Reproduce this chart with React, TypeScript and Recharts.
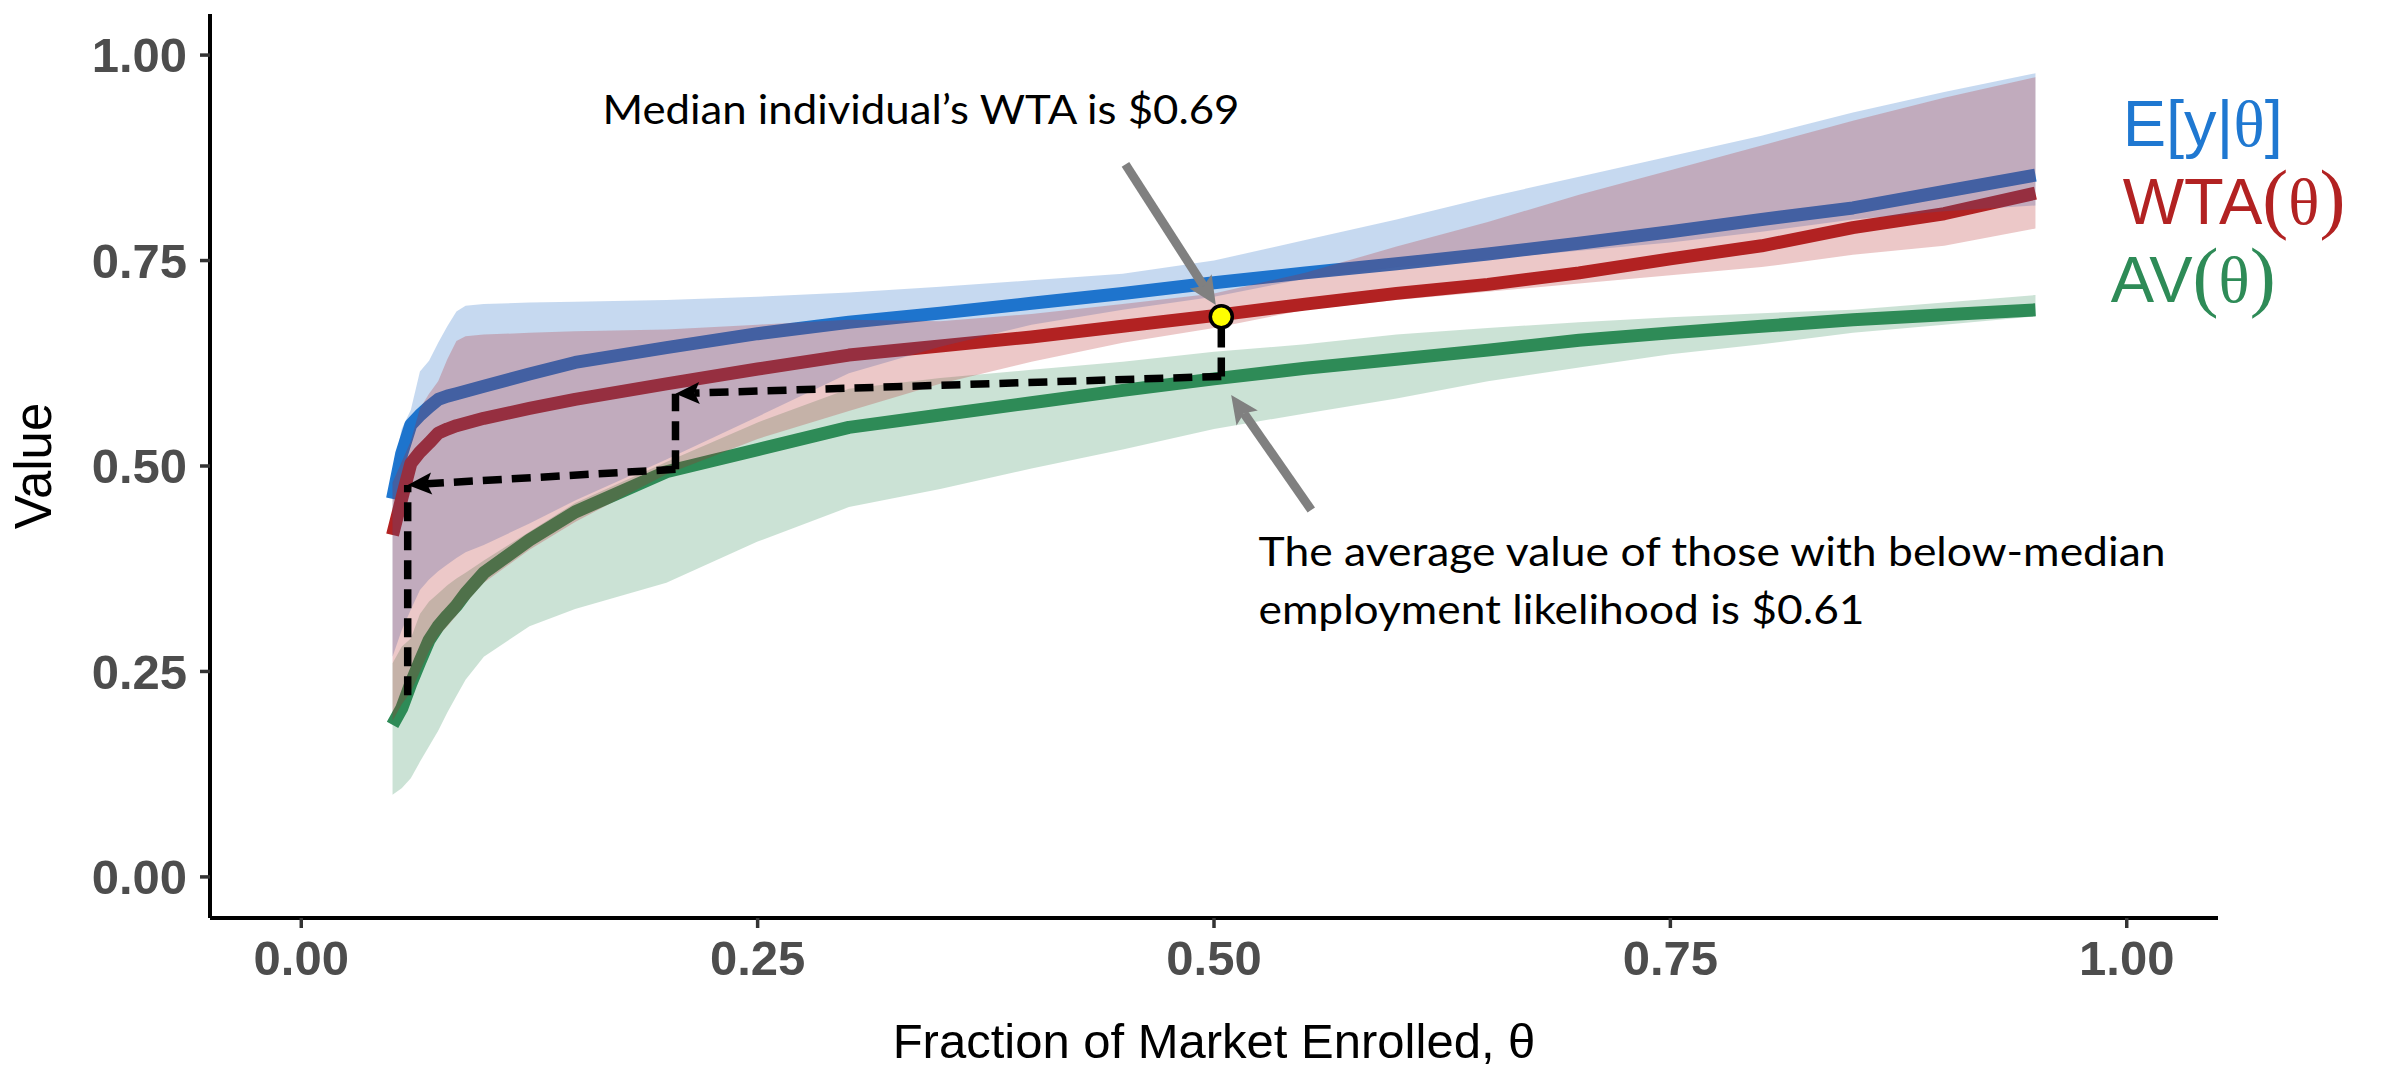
import React from "react";
import {
  ComposedChart,
  Line,
  Area,
  XAxis,
  YAxis,
  ReferenceLine,
  ReferenceDot,
  Label,
} from "recharts";

// fraction of market enrolled
const theta = [0.05, 0.055, 0.06, 0.065, 0.07, 0.075, 0.08, 0.085, 0.09, 0.1, 0.125, 0.15, 0.2, 0.25, 0.3, 0.35, 0.4, 0.45, 0.5, 0.55, 0.6, 0.65, 0.7, 0.75, 0.8, 0.85, 0.9, 0.95];

// E[y|theta]
const eyMid = [0.46, 0.515, 0.55, 0.562, 0.572, 0.581, 0.585, 0.588, 0.591, 0.597, 0.612, 0.626, 0.644, 0.661, 0.675, 0.686, 0.698, 0.71, 0.723, 0.735, 0.746, 0.758, 0.771, 0.785, 0.8, 0.814, 0.834, 0.854];
const eyLo = [0.268, 0.3, 0.325, 0.349, 0.362, 0.372, 0.38, 0.388, 0.395, 0.404, 0.43, 0.458, 0.508, 0.56, 0.613, 0.645, 0.672, 0.69, 0.706, 0.728, 0.742, 0.752, 0.762, 0.772, 0.785, 0.8, 0.81, 0.817];
const eyHi = [0.49, 0.545, 0.568, 0.615, 0.628, 0.65, 0.67, 0.688, 0.695, 0.697, 0.699, 0.7, 0.702, 0.706, 0.711, 0.718, 0.726, 0.734, 0.75, 0.775, 0.8, 0.827, 0.852, 0.877, 0.902, 0.93, 0.955, 0.978];

// WTA(theta)
const wtaMid = [0.416, 0.46, 0.503, 0.517, 0.528, 0.54, 0.545, 0.549, 0.552, 0.558, 0.57, 0.581, 0.6, 0.618, 0.635, 0.646, 0.657, 0.67, 0.683, 0.697, 0.71, 0.721, 0.735, 0.752, 0.768, 0.79, 0.807, 0.832];
const wtaLo = [0.19, 0.21, 0.225, 0.25, 0.275, 0.293, 0.305, 0.318, 0.333, 0.358, 0.398, 0.432, 0.49, 0.533, 0.567, 0.6, 0.627, 0.65, 0.668, 0.69, 0.702, 0.712, 0.722, 0.732, 0.742, 0.757, 0.768, 0.789];
const wtaHi = [0.48, 0.505, 0.53, 0.57, 0.588, 0.603, 0.63, 0.652, 0.658, 0.66, 0.662, 0.664, 0.666, 0.672, 0.678, 0.676, 0.685, 0.697, 0.71, 0.735, 0.767, 0.797, 0.83, 0.86, 0.89, 0.92, 0.948, 0.973];

// AV(theta)
const avMid = [0.185, 0.205, 0.235, 0.262, 0.288, 0.305, 0.318, 0.33, 0.345, 0.37, 0.41, 0.444, 0.493, 0.52, 0.547, 0.562, 0.577, 0.592, 0.606, 0.619, 0.63, 0.641, 0.653, 0.662, 0.67, 0.678, 0.684, 0.69];
const avLo = [0.1, 0.108, 0.12, 0.14, 0.159, 0.178, 0.2, 0.22, 0.24, 0.268, 0.305, 0.326, 0.358, 0.408, 0.45, 0.472, 0.497, 0.52, 0.545, 0.564, 0.582, 0.603, 0.62, 0.636, 0.648, 0.662, 0.672, 0.682];
const avHi = [0.26, 0.28, 0.29, 0.32, 0.335, 0.345, 0.355, 0.363, 0.37, 0.385, 0.42, 0.455, 0.505, 0.553, 0.594, 0.607, 0.617, 0.627, 0.639, 0.648, 0.66, 0.668, 0.675, 0.681, 0.686, 0.69, 0.699, 0.708];

const axisTicks = [0, 0.25, 0.5, 0.75, 1];

// dashed guide path (data coords)
const guides = [
  { from: [0.0583, 0.221], to: [0.0583, 0.477], arrow: false },
  { from: [0.205, 0.496], to: [0.0583, 0.477], arrow: true },
  { from: [0.205, 0.496], to: [0.205, 0.588], arrow: false },
  { from: [0.504, 0.609], to: [0.205, 0.588], arrow: true },
  { from: [0.504, 0.609], to: [0.504, 0.672], arrow: false },
];

// grey callout arrows
const callouts = [
  { from: [0.4515, 0.867], to: [0.501, 0.696] },
  { from: [0.5533, 0.4465], to: [0.5094, 0.5864] },
];

const medianPoint = { x: 0.504, y: 0.6817 };

const notes = [
  { x: 0.165, y: 0.9156, text: "Median individual\u2019s WTA is $0.69", len: 637 },
  { x: 0.5244, y: 0.378, text: "The average value of those with below-median", len: 907 },
  { x: 0.5244, y: 0.3078, text: "employment likelihood is $0.61", len: 606 },
];

const BLUE = "#1f78d1";
const RED = "#b22222";
const GREEN = "#2e8b57";

const rows = theta.map((t, i) => ({
  t,
  ey: eyMid[i],
  wta: wtaMid[i],
  av: avMid[i],
  eyBand: [eyLo[i], eyHi[i]],
  wtaBand: [wtaLo[i], wtaHi[i]],
  avBand: [avLo[i], avHi[i]],
}));

const SANS = "'Liberation Sans', Arial, Helvetica, sans-serif";
const SERIF = "'Liberation Serif', 'Times New Roman', serif";

const XTick = (props: any) => {
  const { x, y, payload } = props;
  return (
    <text x={x} y={y} dy="0.71em" textAnchor="middle" fontFamily={SANS} fontWeight={700} fontSize={49} fill="#4d4d4d">
      {Number(payload.value).toFixed(2)}
    </text>
  );
};

const YTick = (props: any) => {
  const { x, y, payload } = props;
  return (
    <text x={x} y={y} dy="0.355em" textAnchor="end" fontFamily={SANS} fontWeight={700} fontSize={49} fill="#4d4d4d">
      {Number(payload.value).toFixed(2)}
    </text>
  );
};

function arrowShape(color: string, width: number, headLen: number, headHalf: number, dash?: string, withHead = true) {
  return (p: any) => {
    const { x1, y1, x2, y2 } = p;
    const dx = x2 - x1;
    const dy = y2 - y1;
    const len = Math.hypot(dx, dy) || 1;
    const ux = dx / len;
    const uy = dy / len;
    const bx = withHead ? x2 - ux * headLen * 0.8 : x2;
    const by = withHead ? y2 - uy * headLen * 0.8 : y2;
    const hx = x2 - ux * headLen;
    const hy = y2 - uy * headLen;
    const px = -uy * headHalf;
    const py = ux * headHalf;
    const nx = x2 - ux * headLen * 0.8;
    const ny = y2 - uy * headLen * 0.8;
    return (
      <g>
        <line x1={x1} y1={y1} x2={bx} y2={by} stroke={color} strokeWidth={width} strokeDasharray={dash} />
        {withHead && (
          <polygon points={`${x2},${y2} ${hx + px},${hy + py} ${nx},${ny} ${hx - px},${hy - py}`} fill={color} />
        )}
      </g>
    );
  };
}

const noteShape = (text: string, len: number) => (p: any) => (
  <text x={p.cx} y={p.cy} fontFamily="Lato, 'Open Sans', sans-serif" fontSize={40} fill="#000" textLength={len} lengthAdjust="spacingAndGlyphs">
    {text}
  </text>
);

const legendShape = (kind: string) => (p: any) => {
  const common = { x: p.cx, y: p.cy, fontSize: 65, fontFamily: SANS };
  if (kind === "ey") {
    return (
      <text {...common} fill={BLUE}>
        E[y|<tspan fontFamily={SERIF}>θ</tspan>]
      </text>
    );
  }
  if (kind === "wta") {
    return (
      <text {...common} fill={RED}>
        WTA<tspan fontFamily={SERIF} fontSize={78}>(</tspan>
        <tspan fontFamily={SERIF}>θ</tspan>
        <tspan fontFamily={SERIF} fontSize={78}>)</tspan>
      </text>
    );
  }
  return (
    <text {...common} fill={GREEN}>
      AV<tspan fontFamily={SERIF} fontSize={78}>(</tspan>
      <tspan fontFamily={SERIF}>θ</tspan>
      <tspan fontFamily={SERIF} fontSize={78}>)</tspan>
    </text>
  );
};

const legendItems = [
  { kind: "ey", x: 0.9978, y: 0.889 },
  { kind: "wta", x: 0.9978, y: 0.794 },
  { kind: "av", x: 0.9912, y: 0.7 },
];

export default function App() {
  return (
    <div style={{ position: "absolute", left: 0, top: 0, width: 2382, height: 1074, background: "#fff" }}>
      <ComposedChart width={2382} height={1074} data={rows} margin={{ top: 14, right: 164, bottom: 0, left: 0 }}>
        <XAxis
          dataKey="t"
          type="number"
          domain={[-0.05, 1.05]}
          ticks={axisTicks}
          allowDataOverflow
          height={156}
          axisLine={{ stroke: "#000", strokeWidth: 4 }}
          tickLine={{ stroke: "#333", strokeWidth: 3.5 }}
          tickSize={10}
          tickMargin={12}
          tick={<XTick />}
        >
          <Label
            content={(p: any) => {
              const vb = p.viewBox || { x: 210, y: 918, width: 2008 };
              return (
                <text x={vb.x + vb.width / 2} y={vb.y + 140} textAnchor="middle" fontFamily={SANS} fontSize={49} fill="#000">
                  Fraction of Market Enrolled, θ
                </text>
              );
            }}
          />
        </XAxis>
        <YAxis
          type="number"
          domain={[-0.05, 1.05]}
          ticks={axisTicks}
          allowDataOverflow
          width={210}
          axisLine={{ stroke: "#000", strokeWidth: 4 }}
          tickLine={{ stroke: "#333", strokeWidth: 3.5 }}
          tickSize={10}
          tickMargin={13}
          tick={<YTick />}
        >
          <Label
            content={(p: any) => {
              const vb = p.viewBox || { x: 0, y: 14, height: 904 };
              const cx = vb.x + 51;
              const cy = vb.y + vb.height / 2;
              return (
                <text x={cx} y={cy} transform={`rotate(-90 ${cx} ${cy})`} textAnchor="middle" fontFamily={SANS} fontSize={51} fill="#000">
                  Value
                </text>
              );
            }}
          />
        </YAxis>

        <Line dataKey="ey" type="linear" stroke={BLUE} strokeWidth={13} dot={false} activeDot={false} isAnimationActive={false} strokeLinejoin="round" zIndex={200} />
        <Line dataKey="wta" type="linear" stroke={RED} strokeWidth={13} dot={false} activeDot={false} isAnimationActive={false} strokeLinejoin="round" zIndex={200} />
        <Line dataKey="av" type="linear" stroke={GREEN} strokeWidth={13} dot={false} activeDot={false} isAnimationActive={false} strokeLinejoin="round" zIndex={200} />

        <Area dataKey="avBand" type="linear" stroke="none" fill={GREEN} fillOpacity={0.25} dot={false} activeDot={false} isAnimationActive={false} zIndex={300} />
        <Area dataKey="eyBand" type="linear" stroke="none" fill="#1b67c3" fillOpacity={0.25} dot={false} activeDot={false} isAnimationActive={false} zIndex={300} />
        <Area dataKey="wtaBand" type="linear" stroke="none" fill={RED} fillOpacity={0.25} dot={false} activeDot={false} isAnimationActive={false} zIndex={300} />

        {guides.map((g, i) => (
          <ReferenceLine
            key={`g${i}`}
            segment={[{ x: g.from[0], y: g.from[1] }, { x: g.to[0], y: g.to[1] }]}
            zIndex={600}
            shape={arrowShape("#000", 7.5, 24, 11, "19 10", g.arrow)}
          />
        ))}
        {callouts.map((c, i) => (
          <ReferenceLine
            key={`c${i}`}
            segment={[{ x: c.from[0], y: c.from[1] }, { x: c.to[0], y: c.to[1] }]}
            zIndex={600}
            shape={arrowShape("#808080", 9, 28, 13)}
          />
        ))}
        <ReferenceDot x={medianPoint.x} y={medianPoint.y} r={11} fill="#ffff00" stroke="#000" strokeWidth={3.5} zIndex={700} />

        {notes.map((n, i) => (
          <ReferenceDot key={`n${i}`} x={n.x} y={n.y} r={0} zIndex={800} shape={noteShape(n.text, n.len)} />
        ))}
        {legendItems.map((l) => (
          <ReferenceDot key={l.kind} x={l.x} y={l.y} r={0} zIndex={800} shape={legendShape(l.kind)} />
        ))}
      </ComposedChart>
    </div>
  );
}
